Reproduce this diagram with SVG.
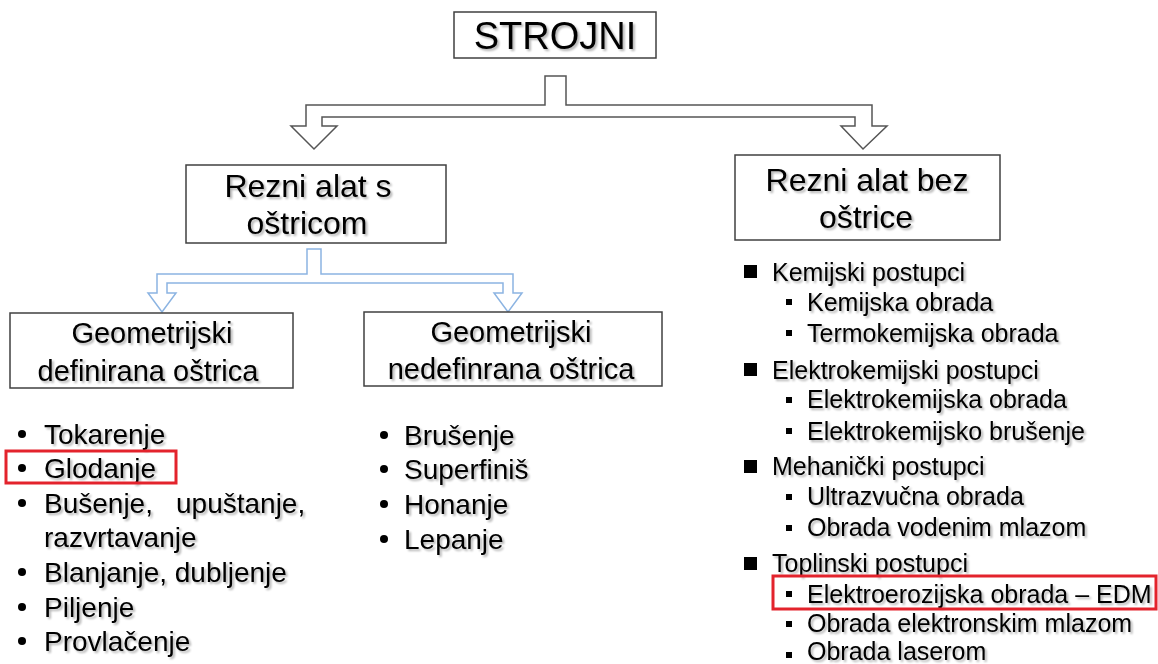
<svg xmlns="http://www.w3.org/2000/svg" width="1158" height="664" viewBox="0 0 1158 664">
<defs>
<filter id="sh" x="-5%" y="-20%" width="110%" height="140%">
<feGaussianBlur in="SourceAlpha" stdDeviation="1"/>
<feOffset dx="1.5" dy="1.5" result="o"/>
<feComponentTransfer><feFuncA type="linear" slope="0.3"/></feComponentTransfer>
<feMerge><feMergeNode/><feMergeNode in="SourceGraphic"/></feMerge>
</filter>
</defs>
<style>
text{font-family:"Liberation Sans",Arial,sans-serif;fill:#000;filter:url(#sh)}
.box{fill:#fff;stroke:#404040;stroke-width:1.5}
.t1{font-size:38px}
.t2{font-size:32px}
.t3{font-size:29px}
.l{font-size:28px}
.r{font-size:25px}
.hl{fill:none;stroke:#e3232c;stroke-width:3}
.ag{fill:#fff;stroke:#555;stroke-width:1.5}
.ab{fill:#fff;stroke:#8cb4e2;stroke-width:1.5}
</style>
<rect width="1158" height="664" fill="#fff"/>
<g id="connectors">
<path class="ag" d="M545,76 L566,76 L566,105 L872,105 L872,126 L887,126 L863,149 L841,126 L855,126 L855,117 L322,117 L322,126 L337,126 L314,149 L291,126 L306,126 L306,105 L545,105 Z"/>
<path class="ab" d="M307,249 L321,249 L321,274 L513,274 L513,293 L522,293 L508,312 L494,293 L503,293 L503,283 L167,283 L167,293 L176,293 L162,312 L148,293 L157,293 L157,274 L307,274 Z"/>
</g>
<g id="strojni">
<rect class="box" x="454" y="12" width="202" height="46"/>
<text class="t1" x="555" y="49" text-anchor="middle">STROJNI</text>
</g>
<g id="rezni-s">
<rect class="box" x="186" y="165" width="260" height="78"/>
<text class="t2" x="308" y="197" text-anchor="middle">Rezni alat s</text>
<text class="t2" x="307" y="234" text-anchor="middle">oštricom</text>
</g>
<g id="rezni-bez">
<rect class="box" x="735" y="155" width="265" height="85"/>
<text class="t2" x="867" y="191" text-anchor="middle">Rezni alat bez</text>
<text class="t2" x="866" y="228" text-anchor="middle">oštrice</text>
</g>
<g id="geo-def">
<rect class="box" x="10" y="313" width="283" height="75"/>
<text class="t3" x="152" y="343" text-anchor="middle">Geometrijski</text>
<text class="t3" x="148" y="381" text-anchor="middle">definirana oštrica</text>
</g>
<g id="geo-nedef">
<rect class="box" x="364" y="312" width="298" height="74"/>
<text class="t3" x="511" y="342" text-anchor="middle">Geometrijski</text>
<text class="t3" x="511" y="379" text-anchor="middle">nedefinrana oštrica</text>
</g>
<g id="list-def">
<g fill="#000">
<circle cx="22" cy="434" r="4"/><circle cx="22" cy="468" r="4"/><circle cx="22" cy="503" r="4"/>
<circle cx="22" cy="572" r="4"/><circle cx="22" cy="607" r="4"/><circle cx="22" cy="641" r="4"/>
</g>
<text class="l" x="44" y="444">Tokarenje</text>
<text class="l" x="44" y="478">Glodanje</text>
<text class="l" x="44" y="513">Bušenje,<tspan x="176">upuštanje,</tspan></text>
<text class="l" x="44" y="547">razvrtavanje</text>
<text class="l" x="44" y="582">Blanjanje, dubljenje</text>
<text class="l" x="44" y="617">Piljenje</text>
<text class="l" x="44" y="651">Provlačenje</text>
<rect class="hl" x="6" y="451" width="170" height="32"/>
</g>
<g id="list-nedef">
<g fill="#000">
<circle cx="384" cy="435" r="4"/><circle cx="384" cy="469" r="4"/><circle cx="384" cy="504" r="4"/><circle cx="384" cy="539" r="4"/>
</g>
<text class="l" x="404" y="445">Brušenje</text>
<text class="l" x="404" y="479">Superfiniš</text>
<text class="l" x="404" y="514">Honanje</text>
<text class="l" x="404" y="549">Lepanje</text>
</g>
<g id="list-bez">
<g fill="#000">
<rect x="744" y="265" width="13" height="13"/>
<rect x="786" y="299" width="6" height="6"/><rect x="786" y="330" width="6" height="6"/>
<rect x="744" y="363" width="13" height="13"/>
<rect x="786" y="397" width="6" height="6"/><rect x="786" y="428" width="6" height="6"/>
<rect x="744" y="460" width="13" height="13"/>
<rect x="786" y="494" width="6" height="6"/><rect x="786" y="525" width="6" height="6"/>
<rect x="744" y="557" width="13" height="13"/>
<rect x="786" y="591" width="6" height="6"/><rect x="786" y="621" width="6" height="6"/><rect x="786" y="652" width="6" height="6"/>
</g>
<text class="r" x="772" y="281">Kemijski postupci</text>
<text class="r" x="807" y="311">Kemijska obrada</text>
<text class="r" x="807" y="342">Termokemijska obrada</text>
<text class="r" x="772" y="379">Elektrokemijski postupci</text>
<text class="r" x="807" y="408">Elektrokemijska obrada</text>
<text class="r" x="807" y="440">Elektrokemijsko brušenje</text>
<text class="r" x="772" y="475">Mehanički postupci</text>
<text class="r" x="807" y="505">Ultrazvučna obrada</text>
<text class="r" x="807" y="536">Obrada vodenim mlazom</text>
<text class="r" x="772" y="572">Toplinski postupci</text>
<text class="r" x="807" y="603">Elektroerozijska obrada – EDM</text>
<text class="r" x="807" y="632">Obrada elektronskim mlazom</text>
<text class="r" x="807" y="660">Obrada laserom</text>
<rect class="hl" x="773" y="576" width="383" height="33"/>
</g>
</svg>
